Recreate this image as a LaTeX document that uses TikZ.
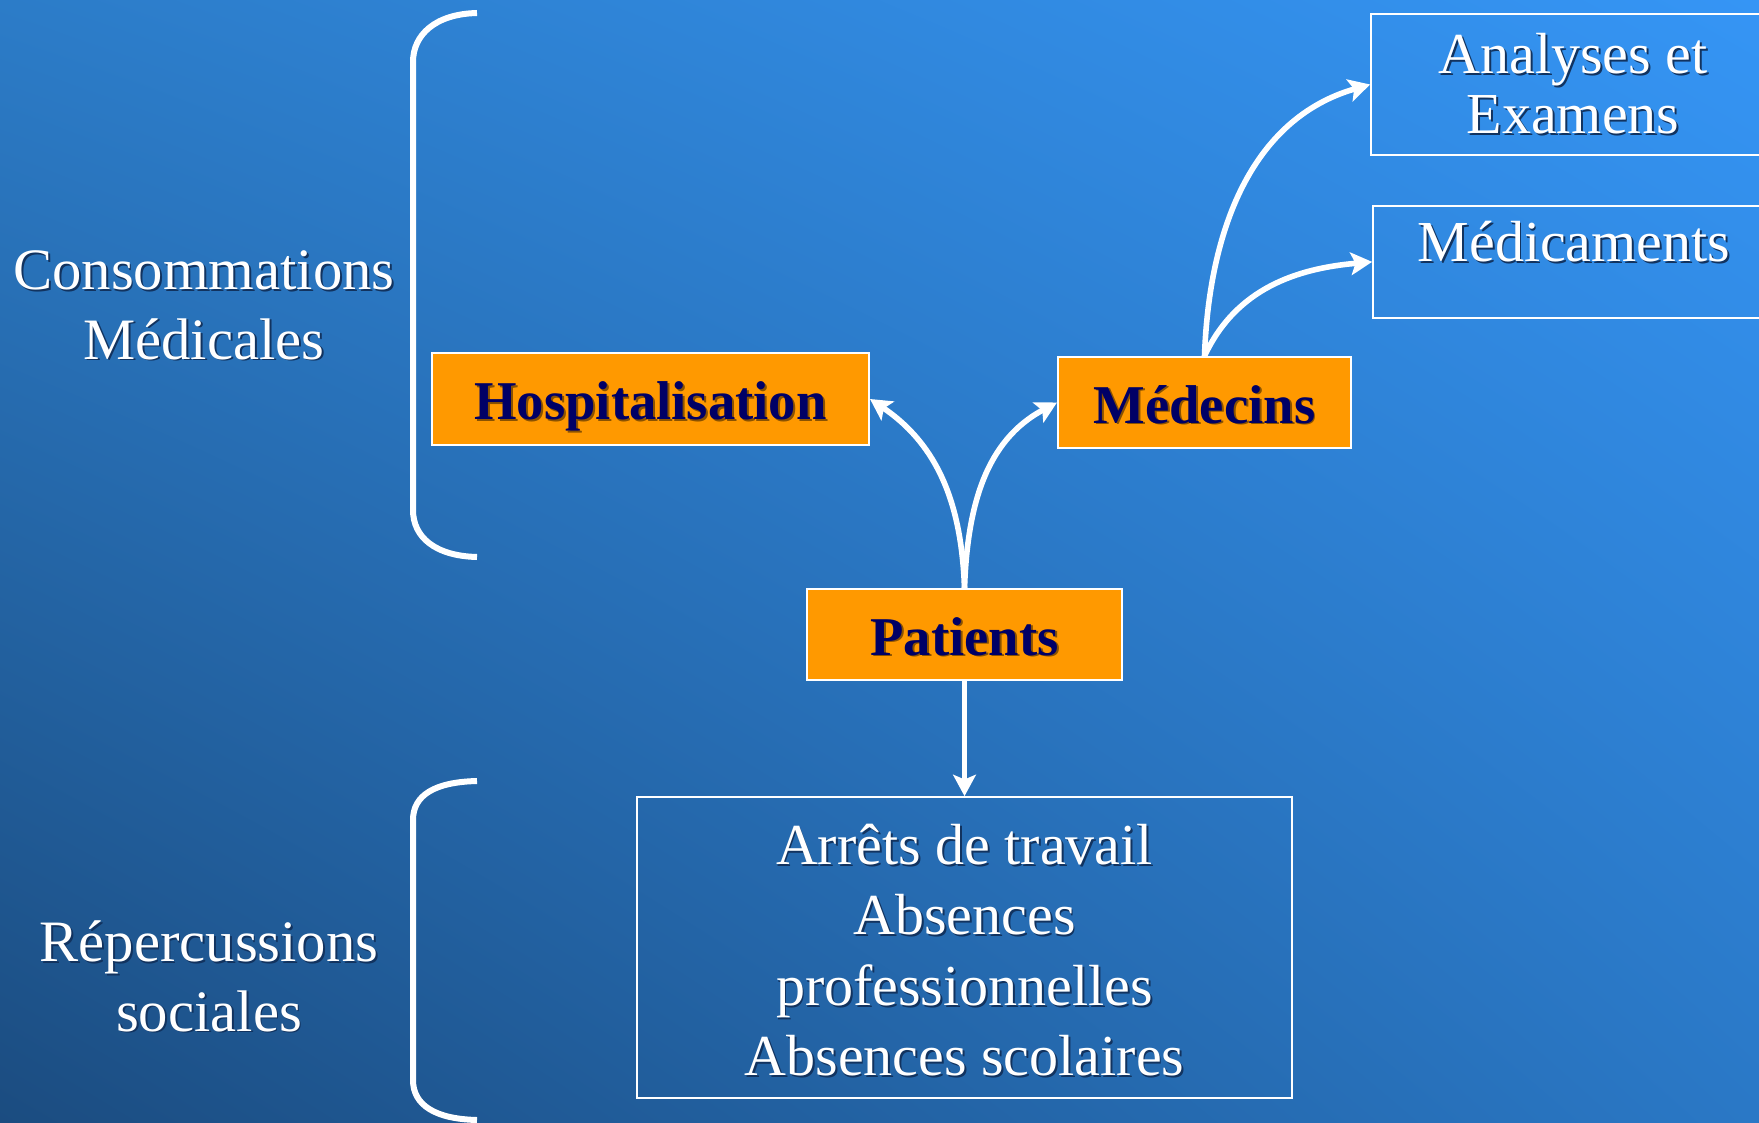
\documentclass[tikz,border=0pt]{standalone}
\usepackage{fontspec}
\setmainfont{Liberation Serif}
\usetikzlibrary{arrows.meta,shadings}
\definecolor{bgul}{HTML}{2C7CC8}
\definecolor{bgur}{HTML}{3595F5}
\definecolor{bgll}{HTML}{1B4C80}
\definecolor{bglr}{HTML}{2A78C6}
\definecolor{orangefill}{HTML}{FF9900}
\definecolor{navytxt}{HTML}{000066}
\definecolor{shadowblue}{HTML}{12335F}
\definecolor{shadoworange}{HTML}{8A5200}
\newcommand\shw[1]{\leavevmode\rlap{\kern1.4pt\raisebox{-1.4pt}{\textcolor{shadowblue}{#1}}}#1}
\newcommand\sho[1]{\leavevmode\rlap{\kern1.4pt\raisebox{-1.4pt}{\textcolor{shadoworange}{#1}}}#1}
\begin{document}
\begin{tikzpicture}[x=0.75pt,y=-0.75pt,
  whitetxt/.style={text=white, font=\fontsize{44}{52.3}\selectfont, align=center, inner sep=0pt},
  orangebox/.style={draw=white, line width=1.5pt, fill=orangefill, text=navytxt,
    font=\fontsize{41}{49}\selectfont\bfseries, inner sep=0pt, text height=32pt, text depth=1.2pt},
  bluebox/.style={draw=white, line width=1.3pt, text=white,
    font=\fontsize{43.5}{52.8}\selectfont, align=center, inner sep=0pt},
  conn/.style={draw=white, line width=4.2pt, -{Stealth[length=16pt,width=17pt,inset=3.5pt]}},
  bracket/.style={draw=white, line width=4.5pt}
]
\useasboundingbox (0,0) rectangle (1759,1123);
\shade[upper left=bgul, upper right=bgur, lower left=bgll, lower right=bglr] (0,0) rectangle (1759,1123);

% brackets
\draw[bracket] (477,13) .. controls (435,14) and (413,35) .. (413,62) -- (413,510) .. controls (413,537) and (435,556) .. (477,557);
\draw[bracket] (477,781) .. controls (435,782) and (413,795) .. (413,820) -- (413,1080) .. controls (413,1105) and (435,1119) .. (477,1120);

% side labels
\node[whitetxt] (conso) at (204,306) {\shw{Consommations}\\\shw{Médicales}};
\node[whitetxt] (reper) at (209,977) {\shw{Répercussions}\\\shw{sociales}};

% orange boxes
\node[orangebox, minimum width=327.75pt, minimum height=69pt] (hosp) at (650.5,399) {\sho{Hospitalisation}};
\node[orangebox, minimum width=219.75pt, minimum height=68.25pt] (med) at (1204.5,402.5) {\sho{Médecins}};
\node[orangebox, minimum width=236.25pt, minimum height=68.25pt] (pat) at (964.5,634.5) {\sho{Patients}};

% blue boxes
\node[bluebox, font=\fontsize{43.5}{45}\selectfont, minimum width=303pt, minimum height=105.75pt] (ana) at (1573,84.5) {\shw{Analyses et}\\\shw{Examens}};
\node[bluebox, anchor=north, minimum width=301.5pt, text height=42pt, text depth=42pt] (medic) at (1574,205) {\shw{Médicaments}};
\node[bluebox, minimum width=491.25pt, minimum height=225.75pt] (soc) at (964.5,947.5) {\rule{0pt}{35.5pt}\shw{Arrêts de travail}\\\shw{Absences}\\\shw{professionnelles}\\\shw{Absences scolaires}};

% connectors
\draw[conn] (pat.north) to[out=92,in=-34] (hosp.east);
\draw[conn] (pat.north) to[out=88,in=208] (med.west);
\draw[conn] (med.north) to[out=88,in=196] (ana.west);
\draw[conn] (med.north) to[out=65,in=185] (medic.west);
\draw[conn] (pat.south) -- (soc.north);
\end{tikzpicture}
\end{document}
